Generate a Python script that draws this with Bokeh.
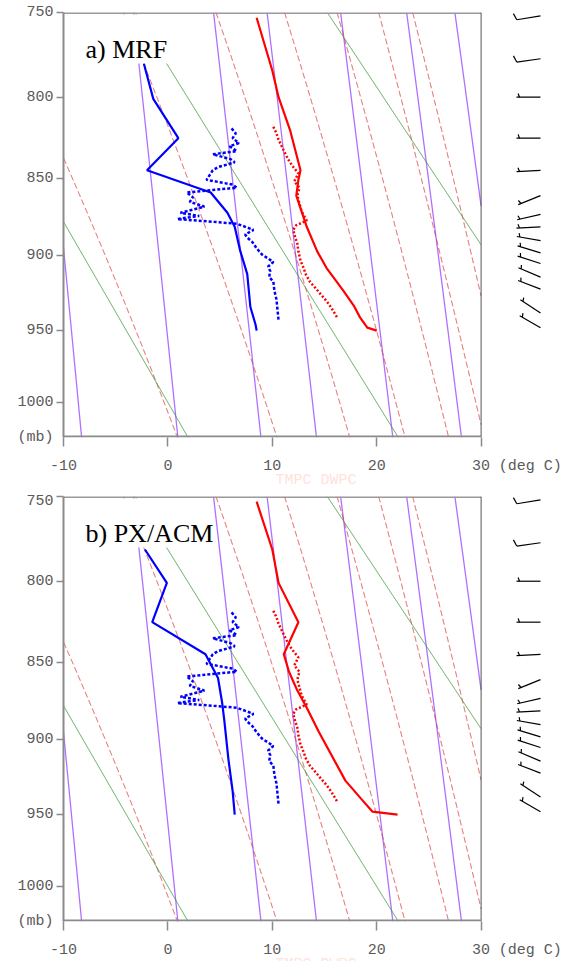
import numpy as np
from bokeh.plotting import figure
from bokeh.layouts import column
from bokeh.models import Range1d, FixedTicker, CustomJSTickFormatter, Label
from bokeh.embed import file_html
from bokeh.resources import INLINE

# ---------------- data ----------------
pressure_ticks = [750, 800, 850, 900, 950, 1000]
temp_ticks = [-10, 0, 10, 20, 30]

# background reference lines
theta_lines_c = [0, 20, 40]                       # dry adiabats (deg C)
thetae_lines_k = [283, 303, 323, 343, 363, 383, 403]  # moist adiabats (K)
mixr_lines_gkg = [2, 4, 7, 10, 16, 24, 32]       # mixing ratio (g/kg)

# observed sounding (same in both panels)
obs_t_p = [818, 822, 826, 830, 834, 838, 842, 847, 852, 856, 861, 866, 871, 877, 880, 883, 888, 892, 897, 903, 908, 912, 917, 921, 926, 930, 935, 941]
obs_t = [10.1, 10.4, 10.6, 10.9, 11.2, 11.5, 11.9, 12.5, 12.1, 12.6, 12.4, 12.6, 12.8, 13.3, 12.3, 12.0, 12.2, 12.4, 12.5, 12.7, 13.0, 13.2, 13.6, 14.1, 14.7, 15.2, 15.7, 16.2]
obs_td_p = [819, 822, 825, 828, 830, 833, 835, 838, 840, 843, 845, 848, 851, 854, 856, 859, 862, 865, 868, 872, 874, 876, 879, 883, 886, 888, 891, 895, 899, 904, 907, 910, 914, 917, 923, 929, 936, 943]
obs_td = [6.1, 6.5, 6.2, 6.8, 5.9, 6.6, 4.3, 6.0, 6.4, 4.8, 4.3, 4.0, 3.7, 6.2, 6.6, 1.8, 2.4, 2.1, 3.5, 1.2, 3.0, 0.9, 6.6, 8.2, 7.4, 7.6, 8.1, 8.5, 9.0, 10.1, 9.6, 9.8, 9.7, 10.1, 10.2, 10.4, 10.5, 10.6]

# model profiles, panel a (MRF)
mrf_t_p = [753, 784, 800, 820, 845, 851, 861, 881, 897, 908, 923, 933, 941, 948, 950]
mrf_t = [8.5, 10.0, 10.6, 11.7, 12.7, 12.5, 12.3, 13.3, 14.3, 15.2, 16.8, 17.8, 18.4, 19.1, 20.0]
mrf_td_p = [780, 801, 825, 845, 859, 872, 881, 896, 912, 934, 946, 950]
mrf_td = [-2.3, -1.4, 1.0, -2.0, 4.1, 5.7, 6.4, 6.9, 7.6, 7.9, 8.4, 8.5]

# model profiles, panel b (PX/ACM)
px_t_p = [753, 781, 801, 825, 845, 856, 868, 879, 894, 927, 940, 948, 950]
px_t = [8.5, 10.0, 10.6, 12.5, 11.1, 11.6, 12.4, 13.3, 14.4, 17.0, 18.6, 19.6, 22.0]
px_td_p = [781, 801, 825, 845, 860, 876, 887, 913, 934, 950]
px_td = [-2.2, -0.1, -1.5, 3.6, 4.8, 5.2, 5.4, 5.8, 6.2, 6.4]

# winds (direction deg, speed kt)
barb_p = [752, 777, 800, 825, 845, 861, 873, 881, 890, 898, 905, 914, 922, 938, 948]
barb_dir = [261, 262, 270, 270, 267, 248, 257, 267, 280, 287, 288, 293, 291, 303, 300]
barb_spd = [10, 10, 5, 5, 5, 5, 5, 5, 5, 5, 5, 5, 5, 5, 5]

# ---------------- geometry ----------------
KAPPA = 0.286
P_TOP, P_BOT = 750.0, 1025.0
T_LEFT, T_RIGHT = -10.0, 30.0
FIG_W = 568
BORDER_L = 63
FRAME_W, FRAME_H = FIG_W - BORDER_L, 425
PX_PER_C = 10.44
X_END = T_LEFT + FRAME_W / PX_PER_C
UNIT_TICK_T = 34.7   # where the "(deg C)" unit text sits
AXIS_LABEL_SPAN = (-10.0, 35.7)   # centres the faint axis title


def py(p):
    return np.power(np.asarray(p, dtype=float), KAPPA)


Y_TOP, Y_BOT = float(py(P_TOP)), float(py(P_BOT))
PX_PER_Y = FRAME_H / (Y_BOT - Y_TOP)


def sx(px):  # pixel offset from frame left -> data x
    return T_LEFT + px / PX_PER_C


def sy(px):  # pixel offset from frame top -> data y
    return Y_TOP + px / PX_PER_Y


def es(tc):
    return 6.112 * np.exp(17.67 * tc / (tc + 243.5))


def thetae_sat(tc, p):
    e = es(tc)
    r = 0.622 * e / (p - e) * 1000.0
    tk = tc + 273.15
    th = tk * (1000.0 / p) ** 0.2854
    return th * np.exp((3.376 / tk - 0.00254) * r * (1 + 0.00081 * r))


p_grid = np.arange(P_TOP, P_BOT + 0.01, 0.25)
T_fine = np.arange(-45, 50, 0.02)


def clipT(T):
    T = np.array(T, dtype=float)
    T[(T < T_LEFT) | (T > T_RIGHT)] = np.nan
    return T


dry_lines = [clipT((th + 273.15) * (p_grid / 1000.0) ** 0.286 - 273.15) for th in theta_lines_c]
moist_lines = []
for te in thetae_lines_k:
    Ts = np.array([np.interp(te, thetae_sat(T_fine, p), T_fine) for p in p_grid])
    moist_lines.append(clipT(Ts))
mixr_lines = []
for r in mixr_lines_gkg:
    e = (r / 1000.0) * p_grid / (0.622 + r / 1000.0)
    lg = np.log(e / 6.112)
    mixr_lines.append(clipT(243.5 * lg / (17.67 - lg)))

Y_GRID = py(p_grid)

AX_COLOR = "#8a8a8a"
LBL_COLOR = "#5a5a5a"
MONO = "Liberation Mono"


def build(title, t_p, t, td_p, td, height, top, bottom):
    f = figure(width=FIG_W, height=height, output_backend="svg", toolbar_location=None,
               x_range=Range1d(T_LEFT, X_END), y_range=Range1d(Y_BOT, Y_TOP),
               min_border_left=BORDER_L, min_border_right=0, min_border_top=top,
               min_border_bottom=bottom)
    f.outline_line_color = None
    f.grid.visible = False
    f.background_fill_color = "white"
    f.border_fill_color = "white"

    xa, ya = f.xaxis[0], f.yaxis[0]
    # x axis: labelled ticks plus the unit text; tick marks drawn as minor ticks
    xa.ticker = FixedTicker(ticks=temp_ticks + [UNIT_TICK_T], minor_ticks=temp_ticks)
    xa.formatter = CustomJSTickFormatter(
        code="return tick > %f ? '(deg C)' : tick.toFixed(0);" % (T_RIGHT + 1))
    xa.bounds = AXIS_LABEL_SPAN
    xa.axis_line_color = None
    xa.axis_label = "TMPC DWPC"
    xa.axis_label_text_font = MONO
    xa.axis_label_text_font_size = "15px"
    xa.axis_label_text_font_style = "normal"
    xa.axis_label_text_color = "#ffe2dc"
    xa.axis_label_standoff = -6
    # y axis: pressure ticks plus "(mb)" at the bottom
    ytk = [float(v) for v in py(pressure_ticks)]
    ya.ticker = FixedTicker(ticks=ytk + [Y_BOT - 1e-7], minor_ticks=ytk)
    ya.formatter = CustomJSTickFormatter(
        code="var p = Math.round(Math.pow(tick, 1/%f)); return p > 1010 ? '(mb)' : p.toString();" % KAPPA)
    ya.axis_line_color = AX_COLOR
    ya.axis_line_width = 2
    for a in (xa, ya):
        a.major_tick_line_color = None
        a.minor_tick_line_color = AX_COLOR
        a.minor_tick_line_width = 1.5
        a.minor_tick_in = 0
        a.major_label_text_font = MONO
        a.major_label_text_font_size = "15px"
        a.major_label_text_color = LBL_COLOR
    ya.minor_tick_out = 7
    ya.major_tick_out = 7
    ya.major_label_standoff = 3
    xa.minor_tick_out = 9
    xa.major_tick_out = 9
    xa.major_label_standoff = 11

    # background lines
    for T in mixr_lines:
        f.line(T, Y_GRID, line_color="#b070ff", line_width=1.3)
    for T in moist_lines:
        f.line(T, Y_GRID, line_color="#e03c3c", line_width=0.9, line_dash="6 3")
    for T in dry_lines:
        f.line(T, Y_GRID, line_color="#3c9a3c", line_width=0.9)

    # borders
    f.segment([T_LEFT], [Y_TOP], [T_RIGHT], [Y_TOP], line_color="#9a9a9a", line_width=3)
    f.segment([T_RIGHT], [Y_TOP], [T_RIGHT], [Y_BOT], line_color="#555555", line_width=1)
    f.segment([T_LEFT], [sy(FRAME_H - 1)], [T_RIGHT], [sy(FRAME_H - 1)],
              line_color=AX_COLOR, line_width=2)

    # title box
    f.quad(left=[T_LEFT + 0.1], right=[sx(144)], top=[sy(2)], bottom=[sy(51)],
           fill_color="white", line_color=None)

    # profiles
    f.line(obs_t, py(obs_t_p), line_color="#ff0000", line_width=2.5, line_dash="2 2")
    f.line(obs_td, py(obs_td_p), line_color="#0000ff", line_width=2.5, line_dash="3 2")
    f.line(t, py(t_p), line_color="#ff0000", line_width=2.2)
    f.line(td, py(td_p), line_color="#0000ff", line_width=2.2)

    # wind barbs (station at right end, staff toward wind origin)
    st_x = sx(477)
    x0, y0, x1, y1 = [], [], [], []
    for pb, d, s in zip(barb_p, barb_dir, barb_spd):
        rad = np.deg2rad(d)
        ux, uy = np.sin(rad), np.cos(rad)
        L = 24.0
        by0 = float(py(pb))
        ex, ey = ux * L, uy * L
        x0.append(st_x); y0.append(by0)
        x1.append(st_x + ex / PX_PER_C); y1.append(by0 - ey / PX_PER_Y)
        a = np.deg2rad(-70)
        fx, fy = ux * np.cos(a) - uy * np.sin(a), ux * np.sin(a) + uy * np.cos(a)
        if s >= 10:
            bxs, bys, fl = ex, ey, 7.0
        else:
            bxs, bys, fl = ux * (L - 3), uy * (L - 3), 4.0
        x0.append(st_x + bxs / PX_PER_C); y0.append(by0 - bys / PX_PER_Y)
        x1.append(st_x + (bxs + fx * fl) / PX_PER_C); y1.append(by0 - (bys + fy * fl) / PX_PER_Y)
    f.segment(x0, y0, x1, y1, line_color="black", line_width=1.2)

    # panel title
    f.add_layout(Label(x=sx(22), y=sy(37), text=title, text_font="Liberation Serif",
                       text_font_size="26px", text_color="black", text_baseline="alphabetic"))
    return f


p1 = build("a) MRF", mrf_t_p, mrf_t, mrf_td_p, mrf_td, 492, 12, 55)
p2 = build("b) PX/ACM", px_t_p, px_t, px_td_p, px_td, 484, 4, 55)
layout = column(p1, p2, spacing=0)

open("out.html", "w").write(file_html(layout, INLINE))
